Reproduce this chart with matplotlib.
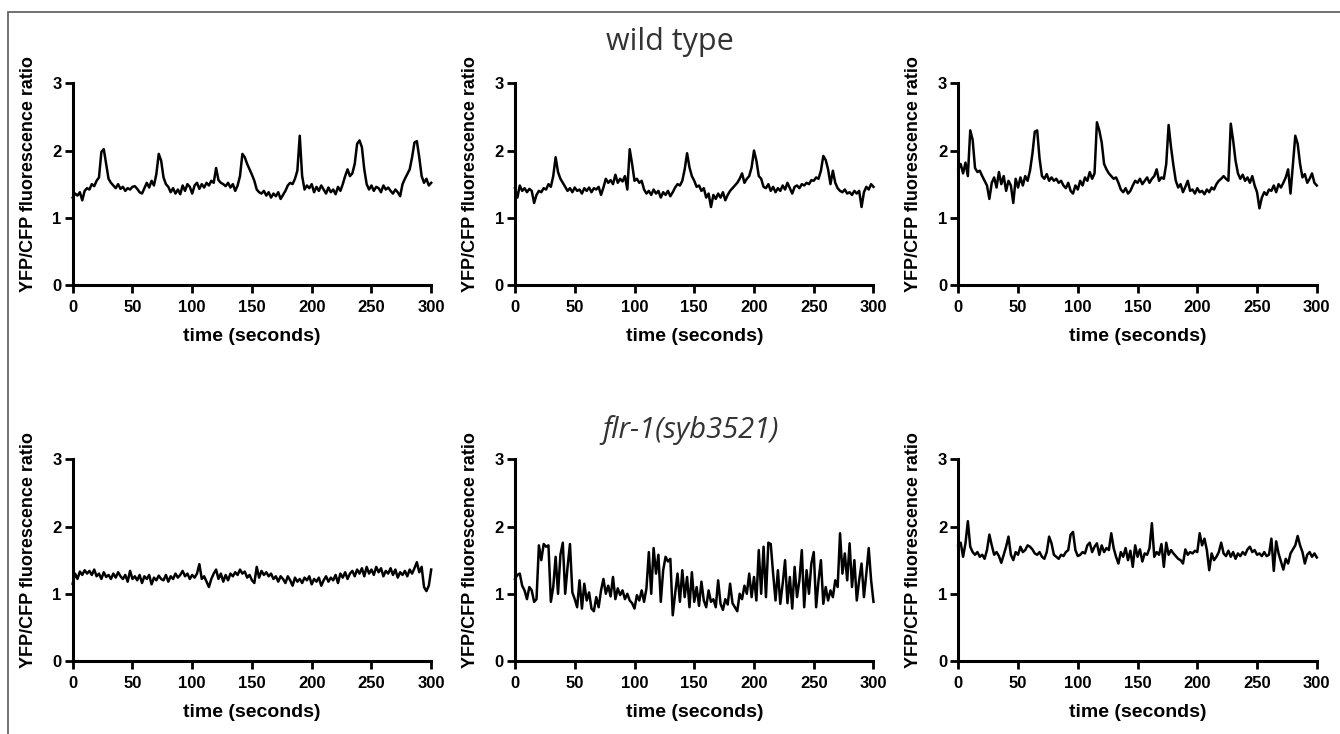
import matplotlib
matplotlib.use("Agg")
import matplotlib.pyplot as plt
from matplotlib.patches import Rectangle

# ---------------- data ----------------
time_s = list(range(0, 301, 2))

wt_a = [1.30, 1.36, 1.33, 1.38, 1.26, 1.40, 1.44, 1.42, 1.50, 1.47,
        1.55, 1.60, 1.98, 2.02, 1.80, 1.58, 1.52, 1.48, 1.44, 1.50,
        1.43, 1.46, 1.40, 1.44, 1.42, 1.46, 1.47, 1.43, 1.38, 1.36,
        1.44, 1.52, 1.45, 1.55, 1.48, 1.65, 1.95, 1.85, 1.60, 1.50,
        1.46, 1.38, 1.44, 1.36, 1.42, 1.35, 1.48, 1.40, 1.50, 1.46,
        1.36, 1.48, 1.52, 1.43, 1.50, 1.45, 1.52, 1.48, 1.55, 1.52,
        1.74, 1.56, 1.52, 1.50, 1.47, 1.52, 1.45, 1.50, 1.40, 1.48,
        1.62, 1.95, 1.90, 1.80, 1.72, 1.64, 1.55, 1.42, 1.38, 1.36,
        1.40, 1.33, 1.38, 1.30, 1.36, 1.32, 1.38, 1.28, 1.34, 1.40,
        1.48, 1.52, 1.50, 1.58, 1.70, 2.22, 1.62, 1.42, 1.48, 1.44,
        1.50, 1.38, 1.46, 1.40, 1.48, 1.42, 1.36, 1.45, 1.38, 1.42,
        1.35, 1.46, 1.40, 1.50, 1.62, 1.72, 1.62, 1.66, 1.80, 2.10,
        2.15, 2.05, 1.72, 1.50, 1.42, 1.48, 1.40, 1.46, 1.44, 1.38,
        1.48, 1.42, 1.45, 1.40, 1.36, 1.42, 1.38, 1.32, 1.50, 1.58,
        1.65, 1.72, 1.90, 2.12, 2.14, 1.90, 1.62, 1.52, 1.58, 1.48,
        1.52]

wt_b = [1.44, 1.30, 1.48, 1.40, 1.44, 1.38, 1.43, 1.40, 1.22, 1.34,
        1.40, 1.38, 1.44, 1.42, 1.50, 1.46, 1.62, 1.90, 1.68, 1.58,
        1.52, 1.46, 1.40, 1.44, 1.38, 1.45, 1.40, 1.42, 1.36, 1.44,
        1.40, 1.45, 1.38, 1.44, 1.42, 1.46, 1.34, 1.45, 1.58, 1.52,
        1.56, 1.50, 1.64, 1.52, 1.58, 1.54, 1.62, 1.42, 2.02, 1.80,
        1.55, 1.58, 1.52, 1.55, 1.42, 1.36, 1.40, 1.34, 1.42, 1.36,
        1.40, 1.30, 1.38, 1.34, 1.40, 1.32, 1.38, 1.45, 1.50, 1.48,
        1.55, 1.72, 1.96, 1.75, 1.62, 1.55, 1.46, 1.48, 1.40, 1.44,
        1.30, 1.36, 1.16, 1.34, 1.28, 1.36, 1.30, 1.38, 1.26, 1.34,
        1.40, 1.44, 1.48, 1.52, 1.58, 1.66, 1.52, 1.58, 1.62, 1.75,
        2.00, 1.85, 1.62, 1.58, 1.46, 1.44, 1.50, 1.40, 1.46, 1.38,
        1.44, 1.40, 1.48, 1.42, 1.52, 1.44, 1.36, 1.46, 1.48, 1.44,
        1.50, 1.48, 1.52, 1.50, 1.56, 1.55, 1.60, 1.58, 1.70, 1.92,
        1.86, 1.72, 1.50, 1.70, 1.52, 1.44, 1.40, 1.38, 1.42, 1.36,
        1.38, 1.34, 1.40, 1.36, 1.40, 1.16, 1.38, 1.46, 1.42, 1.50,
        1.46]

wt_c = [1.72, 1.80, 1.66, 1.82, 1.62, 2.30, 2.16, 1.74, 1.68, 1.70,
        1.62, 1.55, 1.48, 1.28, 1.52, 1.60, 1.45, 1.68, 1.50, 1.62,
        1.40, 1.55, 1.48, 1.22, 1.58, 1.45, 1.60, 1.48, 1.62, 1.55,
        1.70, 1.95, 2.28, 2.30, 1.88, 1.62, 1.58, 1.65, 1.55, 1.60,
        1.55, 1.58, 1.52, 1.55, 1.48, 1.44, 1.52, 1.40, 1.36, 1.48,
        1.42, 1.55, 1.48, 1.60, 1.55, 1.68, 1.58, 1.66, 2.42, 2.30,
        2.12, 1.80, 1.72, 1.66, 1.62, 1.58, 1.60, 1.52, 1.42, 1.38,
        1.44, 1.36, 1.40, 1.48, 1.55, 1.52, 1.58, 1.50, 1.55, 1.60,
        1.52, 1.58, 1.62, 1.72, 1.55, 1.60, 1.58, 1.80, 2.38, 2.05,
        1.78, 1.55, 1.45, 1.50, 1.38, 1.46, 1.55, 1.40, 1.42, 1.36,
        1.44, 1.38, 1.40, 1.35, 1.42, 1.38, 1.45, 1.42, 1.50, 1.55,
        1.58, 1.62, 1.58, 1.55, 2.40, 2.15, 1.85, 1.66, 1.58, 1.64,
        1.55, 1.60, 1.52, 1.62, 1.48, 1.38, 1.14, 1.30, 1.38, 1.34,
        1.42, 1.40, 1.48, 1.38, 1.50, 1.45, 1.52, 1.60, 1.72, 1.36,
        1.80, 2.22, 2.10, 1.80, 1.60, 1.65, 1.52, 1.58, 1.66, 1.52,
        1.48]

mut_a = [1.15, 1.30, 1.22, 1.33, 1.28, 1.35, 1.30, 1.34, 1.28, 1.36,
         1.26, 1.30, 1.22, 1.32, 1.25, 1.28, 1.22, 1.30, 1.24, 1.32,
         1.26, 1.22, 1.28, 1.18, 1.34, 1.22, 1.26, 1.20, 1.28, 1.16,
         1.26, 1.22, 1.28, 1.14, 1.24, 1.20, 1.27, 1.22, 1.20, 1.28,
         1.18, 1.26, 1.22, 1.30, 1.24, 1.28, 1.34, 1.26, 1.30, 1.22,
         1.28, 1.24, 1.30, 1.44, 1.22, 1.26, 1.18, 1.10, 1.22, 1.30,
         1.36, 1.22, 1.30, 1.18, 1.28, 1.20, 1.30, 1.26, 1.32, 1.28,
         1.36, 1.30, 1.33, 1.24, 1.28, 1.20, 1.16, 1.40, 1.24, 1.34,
         1.28, 1.32, 1.26, 1.30, 1.22, 1.26, 1.18, 1.26, 1.22, 1.16,
         1.26, 1.20, 1.12, 1.24, 1.18, 1.22, 1.16, 1.24, 1.20, 1.26,
         1.14, 1.22, 1.18, 1.24, 1.12, 1.20, 1.26, 1.18, 1.24, 1.20,
         1.28, 1.16, 1.30, 1.24, 1.32, 1.22, 1.30, 1.34, 1.26, 1.36,
         1.30, 1.38, 1.26, 1.40, 1.30, 1.36, 1.28, 1.40, 1.32, 1.38,
         1.26, 1.34, 1.30, 1.38, 1.28, 1.36, 1.24, 1.32, 1.28, 1.34,
         1.26, 1.36, 1.30, 1.38, 1.47, 1.32, 1.40, 1.10, 1.04, 1.12,
         1.36]

mut_b = [1.22, 1.28, 1.30, 1.12, 1.05, 0.92, 1.10, 1.05, 0.88, 0.92,
         1.72, 1.50, 1.74, 1.70, 1.72, 0.88, 1.10, 1.55, 1.00, 1.58,
         1.76, 1.00, 1.40, 1.74, 1.02, 0.92, 0.80, 1.20, 0.78, 1.15,
         0.90, 1.02, 0.78, 0.74, 0.95, 0.80, 1.05, 1.22, 1.00, 1.12,
         0.96, 1.25, 0.92, 1.08, 0.98, 1.05, 0.92, 1.00, 0.90, 0.86,
         0.78, 0.98, 0.90, 1.05, 0.88, 1.08, 1.62, 1.00, 1.68, 1.30,
         1.58, 0.88, 1.35, 1.55, 1.48, 1.52, 0.68, 1.00, 1.30, 0.88,
         1.35, 0.95, 1.25, 0.80, 1.32, 0.88, 1.10, 0.82, 1.18, 0.90,
         0.80, 1.05, 0.88, 0.92, 0.80, 1.20, 0.85, 0.76, 0.92, 0.84,
         1.15, 0.86, 0.80, 0.74, 1.00, 0.92, 1.12, 1.00, 1.30, 0.95,
         1.25, 0.90, 1.65, 1.00, 1.70, 0.95, 1.76, 1.74, 1.30, 0.90,
         1.35, 0.85, 1.15, 1.50, 0.86, 1.25, 0.78, 1.40, 0.95, 1.20,
         1.65, 0.80, 1.35, 1.00, 1.45, 1.62, 0.80, 1.20, 1.50, 0.85,
         1.10, 0.90, 1.05, 0.95, 1.20, 1.10, 1.90, 1.30, 1.60, 1.20,
         1.75, 1.10, 1.50, 0.90, 1.20, 1.45, 0.95, 1.30, 1.68, 1.20,
         0.88]

mut_c = [1.72, 1.76, 1.55, 1.75, 2.08, 1.70, 1.62, 1.58, 1.62, 1.55,
         1.58, 1.52, 1.65, 1.88, 1.72, 1.58, 1.62, 1.56, 1.46, 1.58,
         1.70, 1.85, 1.58, 1.50, 1.62, 1.58, 1.70, 1.62, 1.65, 1.72,
         1.70, 1.66, 1.60, 1.58, 1.62, 1.55, 1.52, 1.62, 1.85, 1.75,
         1.58, 1.55, 1.52, 1.58, 1.56, 1.62, 1.65, 1.88, 1.92, 1.65,
         1.56, 1.58, 1.62, 1.60, 1.72, 1.76, 1.62, 1.70, 1.75, 1.58,
         1.72, 1.62, 1.68, 1.65, 1.90, 1.68, 1.55, 1.45, 1.62, 1.55,
         1.68, 1.50, 1.64, 1.40, 1.72, 1.55, 1.66, 1.48, 1.60, 1.58,
         1.68, 2.05, 1.55, 1.62, 1.58, 1.74, 1.40, 1.76, 1.58, 1.65,
         1.60, 1.56, 1.52, 1.50, 1.45, 1.66, 1.58, 1.62, 1.60, 1.64,
         1.62, 1.90, 1.72, 1.82, 1.65, 1.35, 1.60, 1.50, 1.55, 1.62,
         1.76, 1.60, 1.56, 1.64, 1.55, 1.62, 1.52, 1.60, 1.56, 1.62,
         1.58, 1.66, 1.70, 1.62, 1.65, 1.58, 1.60, 1.56, 1.62, 1.56,
         1.58, 1.82, 1.34, 1.78, 1.60, 1.48, 1.36, 1.52, 1.45, 1.60,
         1.66, 1.72, 1.86, 1.72, 1.62, 1.45, 1.58, 1.62, 1.55, 1.60,
         1.54]

x_ticks = [0, 50, 100, 150, 200, 250, 300]
y_ticks = [0, 1, 2, 3]
x_label = "time (seconds)"
y_label = "YFP/CFP fluorescence ratio"
row_titles = ["wild type", "flr-1(syb3521)"]
traces = [[wt_a, wt_b, wt_c], [mut_a, mut_b, mut_c]]

# ---------------- figure ----------------
W, H = 1340, 734
fig = plt.figure(figsize=(W / 100, H / 100), dpi=100)
fig.patch.set_facecolor("white")

tick_font = dict(family="Liberation Sans", weight="bold", size=12)
lefts_px = [72.7, 515.0, 958.3]
width_px = 358.5
rows_px = [(83.3, 285.0), (459.3, 661.0)]

for r, (top_px, bot_px) in enumerate(rows_px):
    for c, left_px in enumerate(lefts_px):
        ax = fig.add_axes([left_px / W, 1 - bot_px / H,
                           width_px / W, (bot_px - top_px) / H])
        ax.plot(time_s, traces[r][c], color="black", lw=1.8,
                solid_joinstyle="round", clip_on=False)
        ax.set_xlim(0, 300)
        ax.set_ylim(0, 3)
        ax.set_xticks(x_ticks)
        ax.set_yticks(y_ticks)
        ax.set_xticklabels([str(v) for v in x_ticks], fontdict=tick_font)
        ax.set_yticklabels([str(v) for v in y_ticks], fontdict=tick_font)
        for s in ["top", "right"]:
            ax.spines[s].set_visible(False)
        for s in ["left", "bottom"]:
            ax.spines[s].set_linewidth(2.2)
            ax.spines[s].set_capstyle("projecting")
        ax.tick_params(axis="both", direction="out", length=5.5, width=2.0,
                       color="black")
        ax.tick_params(axis="y", pad=2.5)
        ax.tick_params(axis="x", pad=5.5)
        ax.set_xlabel(x_label, family="Liberation Sans", weight="bold",
                      size=14, labelpad=9)
        ax.set_ylabel(y_label, family="Liberation Sans", weight="bold",
                      size=13)
        ax.yaxis.set_label_coords(-0.10, 0.55)
        ax.patch.set_alpha(0)

# row titles
fig.text(670 / W, 1 - 42 / H, row_titles[0], ha="center", va="center",
         family="Open Sans", size=22, color="#333333")
fig.text(690 / W, 1 - 430 / H, row_titles[1], ha="center", va="center",
         family="Open Sans", style="italic", size=21, color="#333333")

# outer frame
fig.patches.append(Rectangle((8 / W, -0.05), 1.2, 1 - 11.5 / H + 0.05,
                             transform=fig.transFigure, fill=False,
                             edgecolor="#666666", lw=1.3))

fig.savefig("out.png", dpi=100, facecolor="white")
